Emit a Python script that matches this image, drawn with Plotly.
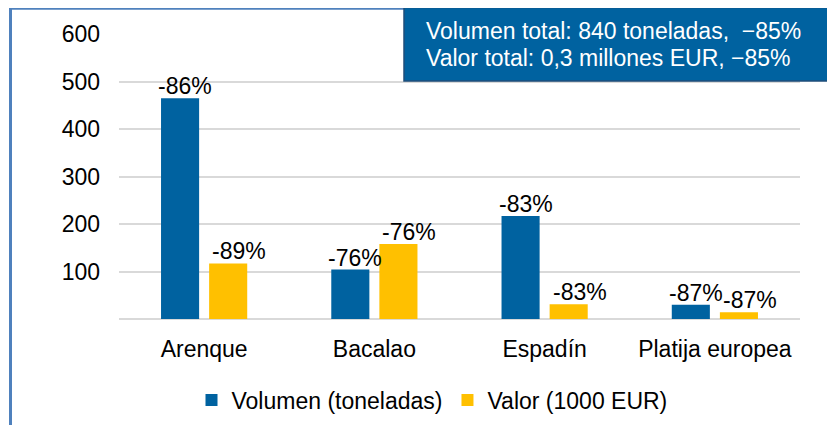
import plotly.graph_objects as go

categories = ["Arenque", "Bacalao", "Espadín", "Platija europea"]
volumen = [465, 104, 217, 30]
valor = [117, 158, 31, 14]
volumen_cambio = ["-86%", "-76%", "-83%", "-87%"]
valor_cambio = ["-89%", "-76%", "-83%", "-87%"]
ytick_vals = [0, 100, 200, 300, 400, 500, 600]
ytick_text = ["", "100", "200", "300", "400", "500", "600"]
box_lines = ["Volumen total: 840 toneladas,\u00a0 \u221285%",
             "Valor total: 0,3 millones EUR, \u221285%"]

FONT = "Liberation Sans, Arial, sans-serif"
BLUE = "#0062A0"
YELLOW = "#FFC000"
FS = 23

# page body has an 8px margin: figure coordinates = screen coordinates - 8
OFF = 8
W, H = 827, 417
L, R, T, B = 111, 35, 26, 106
pw, ph = W - L - R, H - T - B


def px(x):
    return (x - OFF - L) / pw


def py(y):
    return (H - B - (y - OFF)) / ph


fig = go.Figure()
fig.add_trace(go.Bar(
    x=categories, y=volumen, name="Volumen (toneladas)",
    marker=dict(color=BLUE, line=dict(width=0)),
))
fig.add_trace(go.Bar(
    x=categories, y=valor, name="Valor (1000 EUR)",
    marker=dict(color=YELLOW, line=dict(width=0)),
))

shapes = [
    # outer frame (left and top edges visible)
    dict(type="line", xref="paper", yref="paper", x0=px(10.5), x1=px(900),
         y0=py(8.3), y1=py(8.3), line=dict(color="#4F81BD", width=3)),
    dict(type="line", xref="paper", yref="paper", x0=px(10.5), x1=px(10.5),
         y0=py(7), y1=py(500), line=dict(color="#4F81BD", width=3)),
    # summary box
    dict(type="rect", xref="paper", yref="paper", x0=px(404), x1=px(845),
         y0=py(7.5), y1=py(81), fillcolor=BLUE,
         line=dict(color="#1F4E79", width=1.5)),
]

annotations = []
for i, line in enumerate(box_lines):
    annotations.append(dict(
        xref="paper", yref="paper", x=px(424), y=py(31 + i * 27),
        xanchor="left", yanchor="middle", text=line, showarrow=False,
        font=dict(size=FS, color="#FFFFFF", family=FONT),
    ))

# data labels above bars
for cat, v, t in zip(categories, volumen, volumen_cambio):
    annotations.append(dict(x=cat, y=v, xref="x", yref="y", text=t,
                            showarrow=False, xanchor="center", yanchor="bottom",
                            xshift=-24 + 5, yshift=-3,
                            font=dict(size=FS, color="#000000", family=FONT)))
for cat, v, t in zip(categories, valor, valor_cambio):
    annotations.append(dict(x=cat, y=v, xref="x", yref="y", text=t,
                            showarrow=False, xanchor="center", yanchor="bottom",
                            xshift=24 + 11, yshift=-3,
                            font=dict(size=FS, color="#000000", family=FONT)))

fig.update_layout(
    width=W, height=H,
    margin=dict(l=L, r=R, t=T, b=B, autoexpand=False),
    paper_bgcolor="#FFFFFF", plot_bgcolor="#FFFFFF",
    font=dict(family=FONT, size=FS, color="#000000"),
    barmode="group", bargap=0.435, bargroupgap=0.208,
    showlegend=True,
    legend=dict(orientation="h", x=px(432), xanchor="center",
                y=py(400), yanchor="middle",
                font=dict(size=FS, color="#000000", family=FONT),
                bgcolor="rgba(0,0,0,0)"),
    shapes=shapes, annotations=annotations,
)
fig.update_xaxes(showgrid=False, showline=False, ticks="",
                 tickfont=dict(size=FS, family=FONT, color="#000000"),
                 ticklabelstandoff=14, automargin=False)
fig.update_yaxes(range=[0, 600], tickvals=ytick_vals, ticktext=ytick_text,
                 showgrid=True, gridcolor="#D9D9D9", gridwidth=2,
                 zeroline=True, zerolinecolor="#D9D9D9", zerolinewidth=2,
                 showline=False, ticks="",
                 tickfont=dict(size=FS, family=FONT, color="#000000"),
                 ticklabelstandoff=18, automargin=False)

fig.write_html("out.html")
